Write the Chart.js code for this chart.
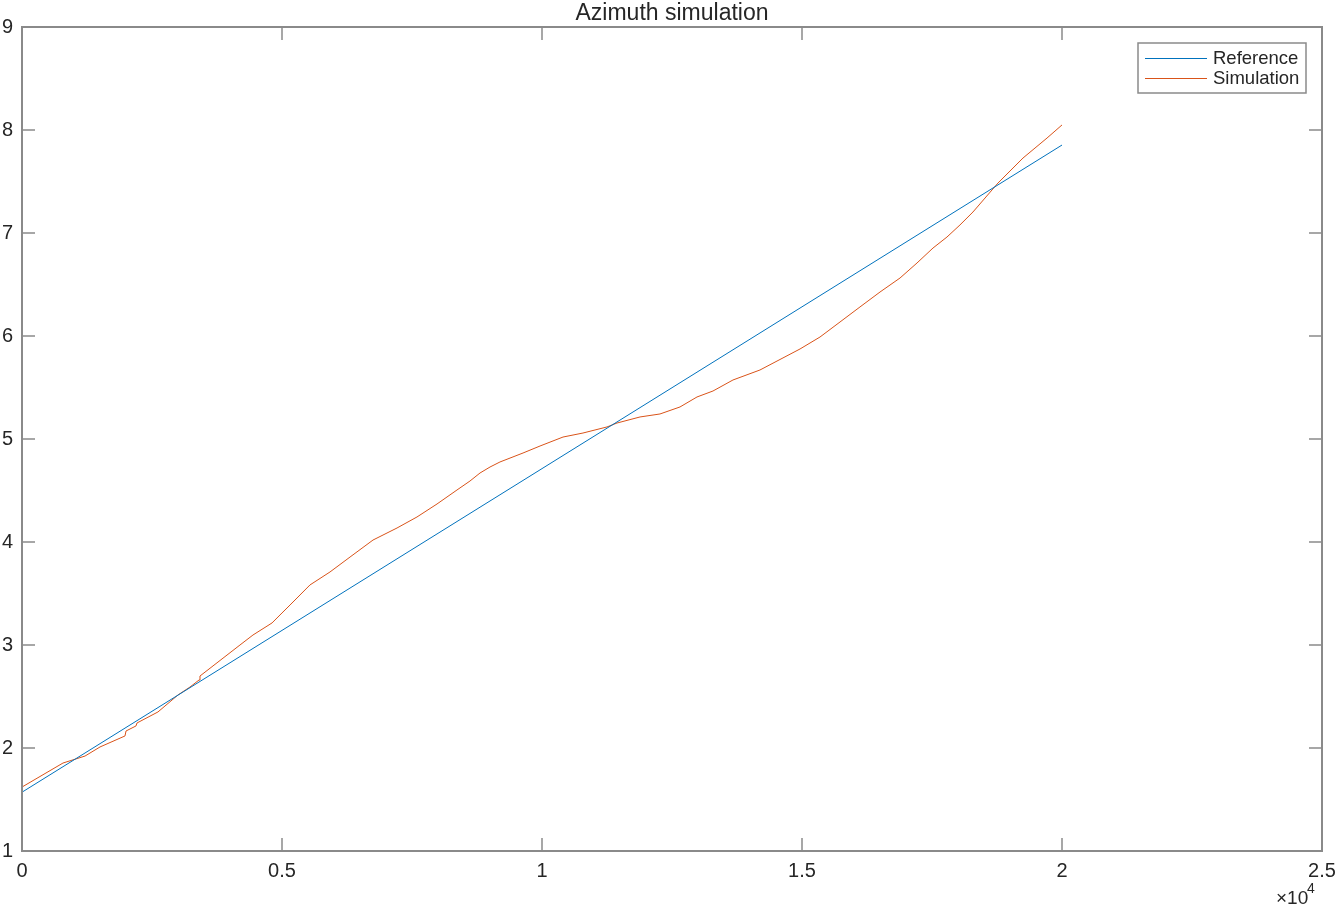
<!DOCTYPE html>
<html>
<head>
<meta charset="utf-8">
<script src="https://cdn.jsdelivr.net/npm/chart.js@4.4.1/dist/chart.umd.min.js"></script>
<style>
  body { margin: 0; background: #fff; }
  #wrap { width: 1340px; height: 907px; }
</style>
</head>
<body>
<div id="wrap"><canvas id="chart" width="1340" height="907"></canvas></div>
<script>
/*** data ***/
const refX = [0, 20000];
const refY = [1.5708, 7.854];

const simX = [0, 788, 1212, 1500, 1981, 2000, 2192, 2212, 2615, 3000, 3231, 3404, 3423,
  4192, 4442, 4808, 5000, 5154, 5538, 5923, 6308, 6750, 7212, 7596, 7981, 8365, 8615,
  8808, 9000, 9192, 9635, 9962, 10404, 10788, 11250, 11442, 11885, 12269, 12654, 12981,
  13288, 13673, 14192, 14962, 15346, 15731, 16115, 16500, 16885, 17212, 17519, 17788,
  18038, 18288, 18769, 19250, 19712, 20000];
const simY = [1.621, 1.854, 1.922, 2.010, 2.117, 2.165, 2.214, 2.243, 2.350, 2.515, 2.592, 2.660, 2.699,
  3.000, 3.097, 3.214, 3.311, 3.388, 3.583, 3.709, 3.854, 4.019, 4.136, 4.243, 4.369, 4.505, 4.592,
  4.670, 4.728, 4.777, 4.864, 4.932, 5.019, 5.058, 5.117, 5.155, 5.214, 5.243, 5.311, 5.408,
  5.466, 5.573, 5.670, 5.874, 5.990, 6.136, 6.282, 6.427, 6.563, 6.709, 6.854, 6.961,
  7.078, 7.204, 7.485, 7.728, 7.922, 8.049];

const seriesNames = ['Reference', 'Simulation'];
const seriesColors = ['#0072BD', '#D95319'];
const titleText = 'Azimuth simulation';
const xTicks = [0, 5000, 10000, 15000, 20000, 25000];
const yTicks = [1, 2, 3, 4, 5, 6, 7, 8, 9];

const FONT = '"Liberation Sans", Arial, Helvetica, sans-serif';
const TEXT = '#262626';
const AXIS = '#8a8a8a';

function toPoints(xs, ys) {
  return xs.map((x, i) => ({ x: x, y: ys[i] }));
}

// box, inward ticks, legend, title, exponent
const matlabAxes = {
  id: 'matlabAxes',
  afterDraw(chart) {
    const ctx = chart.ctx;
    const a = chart.chartArea;
    const xs = chart.scales.x;
    const ys = chart.scales.y;
    const tl = 13;
    ctx.save();
    ctx.strokeStyle = AXIS;
    ctx.lineWidth = 2;
    ctx.strokeRect(a.left, a.top, a.right - a.left, a.bottom - a.top);
    ctx.lineWidth = 1.5;
    ctx.beginPath();
    xTicks.forEach((v) => {
      const px = Math.round(xs.getPixelForValue(v));
      ctx.moveTo(px, a.bottom); ctx.lineTo(px, a.bottom - tl);
      ctx.moveTo(px, a.top); ctx.lineTo(px, a.top + tl);
    });
    yTicks.forEach((v) => {
      const py = Math.round(ys.getPixelForValue(v));
      ctx.moveTo(a.left, py); ctx.lineTo(a.left + tl, py);
      ctx.moveTo(a.right, py); ctx.lineTo(a.right - tl, py);
    });
    ctx.stroke();

    // title
    ctx.fillStyle = TEXT;
    ctx.font = '23px ' + FONT;
    ctx.textAlign = 'center';
    ctx.textBaseline = 'alphabetic';
    ctx.fillText(titleText, (a.left + a.right) / 2, 20);

    // x exponent
    ctx.font = '19px ' + FONT;
    ctx.textAlign = 'left';
    ctx.fillText('\u00d710', 1276, 904);
    ctx.font = '14px ' + FONT;
    ctx.fillText('4', 1307, 893);

    // legend
    const lx = 1138, ly = 43, lw = 168, lh = 50;
    ctx.fillStyle = '#fff';
    ctx.fillRect(lx, ly, lw, lh);
    ctx.strokeStyle = AXIS;
    ctx.lineWidth = 1.5;
    ctx.strokeRect(lx, ly, lw, lh);
    ctx.font = '18.5px ' + FONT;
    ctx.textBaseline = 'middle';
    seriesNames.forEach((name, i) => {
      const cy = 57.5 + i * 20.5;
      ctx.strokeStyle = seriesColors[i];
      ctx.lineWidth = 1;
      ctx.beginPath();
      ctx.moveTo(1145, Math.round(cy) + 0.5);
      ctx.lineTo(1207, Math.round(cy) + 0.5);
      ctx.stroke();
      ctx.fillStyle = TEXT;
      ctx.fillText(name, 1213, cy + 1);
    });
    ctx.restore();
  },
};

new Chart(document.getElementById('chart'), {
  type: 'line',
  data: {
    datasets: [
      {
        label: seriesNames[0],
        data: toPoints(refX, refY),
        borderColor: seriesColors[0],
        borderWidth: 1,
        pointRadius: 0,
        tension: 0,
      },
      {
        label: seriesNames[1],
        data: toPoints(simX, simY),
        borderColor: seriesColors[1],
        borderWidth: 1,
        pointRadius: 0,
        tension: 0,
      },
    ],
  },
  options: {
    responsive: false,
    animation: false,
    layout: { padding: { top: 27, right: 18, left: 0, bottom: 0 } },
    plugins: {
      legend: { display: false },
      title: { display: false },
      tooltip: { enabled: false },
    },
    scales: {
      x: {
        type: 'linear',
        min: 0,
        max: 25000,
        afterFit: (scale) => {
          scale.height = 56;
          scale.paddingLeft = 0;
          scale.paddingRight = 0;
        },
        afterBuildTicks: (scale) => { scale.ticks = xTicks.map((v) => ({ value: v })); },
        grid: { display: false, drawTicks: false },
        border: { display: false },
        ticks: {
          padding: 8,
          color: TEXT,
          font: { family: FONT, size: 20 },
          maxRotation: 0,
          callback: (v) => String(v / 10000),
        },
      },
      y: {
        type: 'linear',
        min: 1,
        max: 9,
        afterFit: (scale) => {
          scale.width = 22;
          scale.paddingTop = 0;
          scale.paddingBottom = 0;
        },
        afterBuildTicks: (scale) => { scale.ticks = yTicks.map((v) => ({ value: v })); },
        grid: { display: false, drawTicks: false },
        border: { display: false },
        ticks: {
          padding: 9,
          color: TEXT,
          font: { family: FONT, size: 20 },
        },
      },
    },
  },
  plugins: [matlabAxes],
});
</script>
</body>
</html>
